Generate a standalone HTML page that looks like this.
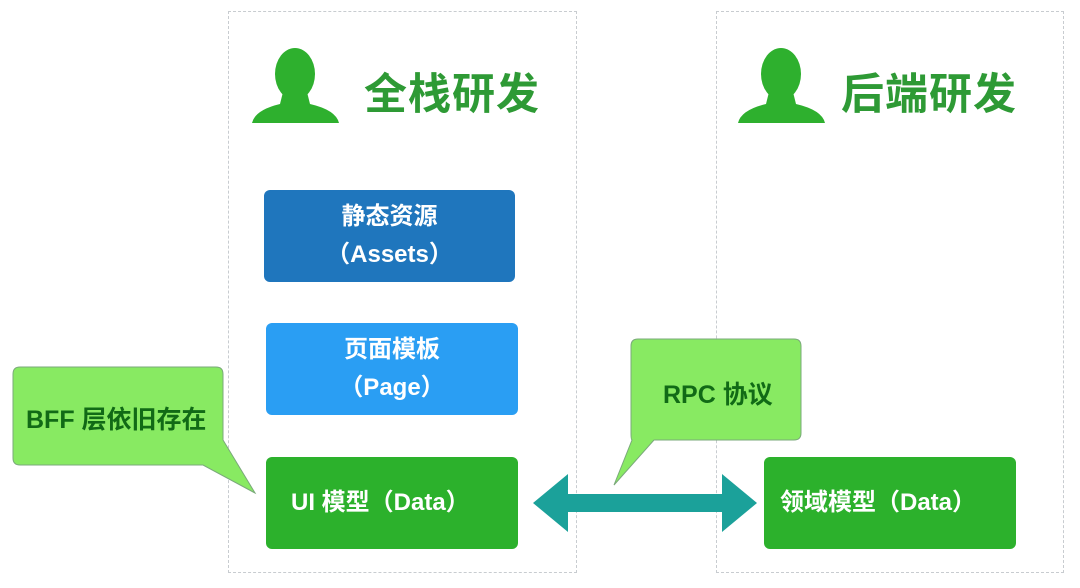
<!DOCTYPE html>
<html><head><meta charset="utf-8"><style>
body{margin:0;width:1080px;height:588px;background:#fff;position:relative;overflow:hidden;font-family:"Liberation Sans","Noto Sans CJK SC",sans-serif}
.panel{position:absolute;top:11px;height:562px;border:1px dashed #c8ccd0;box-sizing:border-box;background:#fff}
.box{position:absolute;border-radius:6px;color:#fff;font-size:24px;font-weight:bold;text-align:center;display:flex;align-items:center;justify-content:center;line-height:38px;flex-direction:column}
.title{position:absolute;font-size:43px;font-weight:bold;color:#2e9a35;letter-spacing:1px}
.ct{position:absolute;color:#116a16;font-weight:bold;font-size:25px}
</style></head><body>
<div class="panel" style="left:228px;width:349px"></div>
<div class="panel" style="left:716px;width:348px"></div>

<svg style="position:absolute;left:0;top:0" width="1080" height="588">
<g fill="#2eb02e">
<ellipse cx="295" cy="74" rx="20" ry="26"/><path d="M283 92 L307 92 L310 104 Q336 110 339 123 L252 123 Q255 110 280 104Z"/>
<ellipse cx="781" cy="74" rx="20" ry="26"/><path d="M769 92 L793 92 L796 104 Q822 110 825 123 L738 123 Q741 110 766 104Z"/>
</g>
<path d="M20 367 H216 Q223 367 223 374 V440 L255 493 L203 465 H20 Q13 465 13 458 V374 Q13 367 20 367Z" fill="#88ea62" stroke="#7aa97a" stroke-width="1"/>
<path d="M638 339 H794 Q801 339 801 346 V433 Q801 440 794 440 H654 L614 485 L632 440 Q631 440 631 433 V346 Q631 339 638 339Z" fill="#88ea62" stroke="#7aa97a" stroke-width="1"/>
<path d="M533 503 L568 474 L568 494 L722 494 L722 474 L757 503 L722 532 L722 512 L568 512 L568 532Z" fill="#1ba19a"/>
</svg>

<div class="title" style="left:364px;top:60px">全栈研发</div>
<div class="title" style="left:841px;top:60px">后端研发</div>

<div class="box" style="left:264px;top:190px;width:251px;height:92px;background:#1f76bd"><div>静态资源</div><div>（Assets）</div></div>
<div class="box" style="left:266px;top:323px;width:252px;height:92px;background:#2a9ef3"><div>页面模板</div><div>（Page）</div></div>
<div class="box" style="left:266px;top:457px;width:252px;height:92px;background:#2cb12c;align-items:flex-start;padding-left:25px;box-sizing:border-box">UI 模型（Data）</div>
<div class="box" style="left:764px;top:457px;width:252px;height:92px;background:#2cb12c;align-items:flex-start;padding-left:16px;box-sizing:border-box">领域模型（Data）</div>

<div class="ct" style="left:26px;top:400px">BFF 层依旧存在</div>
<div class="ct" style="left:663px;top:375px">RPC 协议</div>
</body></html>
